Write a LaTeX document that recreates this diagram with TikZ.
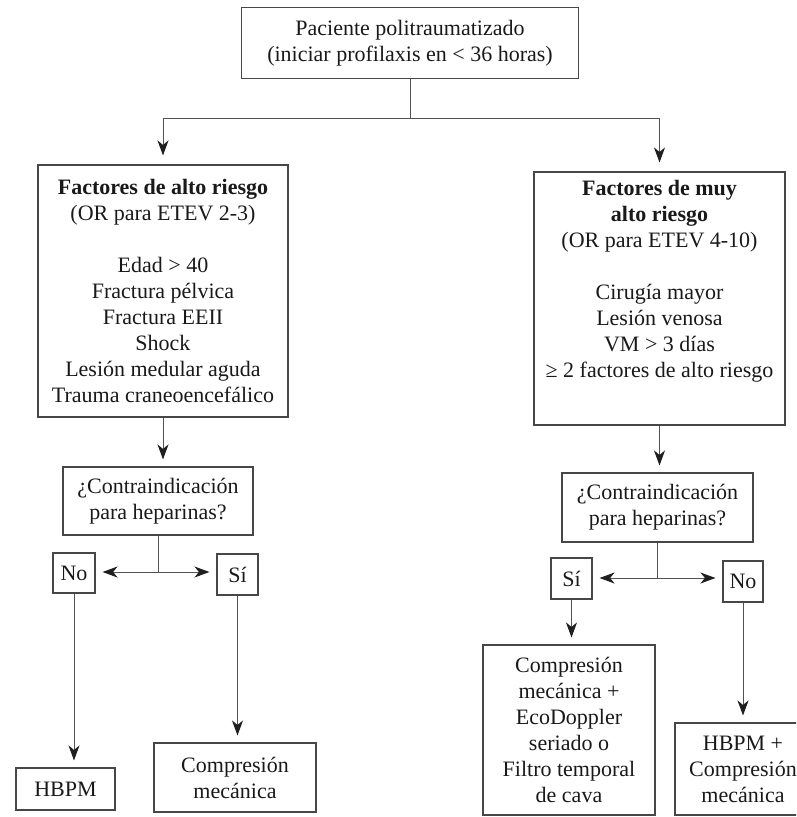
\documentclass[tikz,border=0pt]{standalone}
\usepackage{fontspec}
\setmainfont{Liberation Serif}
\usetikzlibrary{arrows.meta,calc}

\begin{document}
\begin{tikzpicture}[x=1pt,y=-1pt,
  every node/.style={font=\fontsize{22}{26}\selectfont, text=black!90},
  box/.style={draw=black!72, line width=1.1pt, inner sep=0pt, align=center},
  link/.style={draw=black!68, line width=1pt},
  arr/.style={link, -{Stealth[length=15pt,width=11pt,inset=4.5pt,color=black!88,fill=black!88]}, shorten >=7pt},
  toparr/.style={arr, shorten >=9pt}
]
\useasboundingbox (0,0) rectangle (796,817);
\clip (0,0) rectangle (796,817);

% root
\node[box, minimum width=337pt, minimum height=71pt] (top) at (410,43)
  {Paciente politraumatizado\\(iniciar profilaxis en < 36 horas)};

% risk groups
\node[box, minimum width=250pt, minimum height=252pt] (fa) at (163,291)
  {\textbf{Factores de alto riesgo}\\(OR para ETEV 2-3)\\[26pt]Edad > 40\\Fractura pélvica\\Fractura EEII\\Shock\\Lesión medular aguda\\Trauma craneoencefálico};
\node[box, minimum width=251pt, minimum height=253pt] (fb) at (659.5,298.5)
  {\textbf{Factores de muy}\\\textbf{alto riesgo}\\(OR para ETEV 4-10)\\[26pt]Cirugía mayor\\Lesión venosa\\VM > 3 días\\≥ 2 factores de alto riesgo\\[14pt]\mbox{}};

% contraindication questions
\node[box, minimum width=190pt, minimum height=68pt] (ca) at (158,501)
  {¿Contraindicación\\para heparinas?};
\node[box, minimum width=191pt, minimum height=69pt] (cb) at (657.5,507.5)
  {¿Contraindicación\\para heparinas?};

% answers
\node[box, minimum width=42pt, minimum height=40pt] (noA) at (74,573) {No};
\node[box, minimum width=41pt, minimum height=41pt] (siA) at (237.5,574.5) {Sí};
\node[box, minimum width=41pt, minimum height=41pt] (siB) at (571.5,578.5) {Sí};
\node[box, minimum width=40pt, minimum height=41pt] (noB) at (743,581.5) {No};

% treatments
\node[box, minimum width=99pt, minimum height=42pt] (hbpmA) at (65.5,789) {HBPM};
\node[box, minimum width=162pt, minimum height=69pt] (compA) at (235,777.5)
  {Compresión\\mecánica};
\node[box, minimum width=172pt, minimum height=170pt] (compB) at (569,730)
  {Compresión\\mecánica +\\EcoDoppler\\seriado o\\Filtro temporal\\de cava};
\node[box, minimum width=136pt, minimum height=92pt] (hbpmB) at (743,769)
  {HBPM +\\Compresión\\mecánica};

% connectors
\coordinate (hub) at (top.south |- 0,118);
\draw[link] (top.south) -- (hub);
\draw[toparr] (hub) -| (fa);
\draw[toparr] (hub) -| (fb);

\draw[arr] (fa.south) -- (fa.south |- ca.north);
\draw[arr] (fb.south) -- (fb.south |- cb.north);

\coordinate (ja) at (ca.south |- 0,572);
\draw[link] (ca.south) -- (ja);
\draw[arr] (ja) -- (ja -| noA.east);
\draw[arr] (ja) -- (ja -| siA.west);

\coordinate (jb) at (cb.south |- 0,578);
\draw[link] (cb.south) -- (jb);
\draw[arr] (jb) -- (jb -| siB.east);
\draw[arr] (jb) -- (jb -| noB.west);

\draw[arr] (noA.south) -- (noA.south |- hbpmA.north);
\draw[arr] (siA.south) -- (siA.south |- compA.north);
\draw[arr] (siB.south) -- (siB.south |- compB.north);
\draw[arr] (noB.south) -- (noB.south |- hbpmB.north);
\end{tikzpicture}
\end{document}
